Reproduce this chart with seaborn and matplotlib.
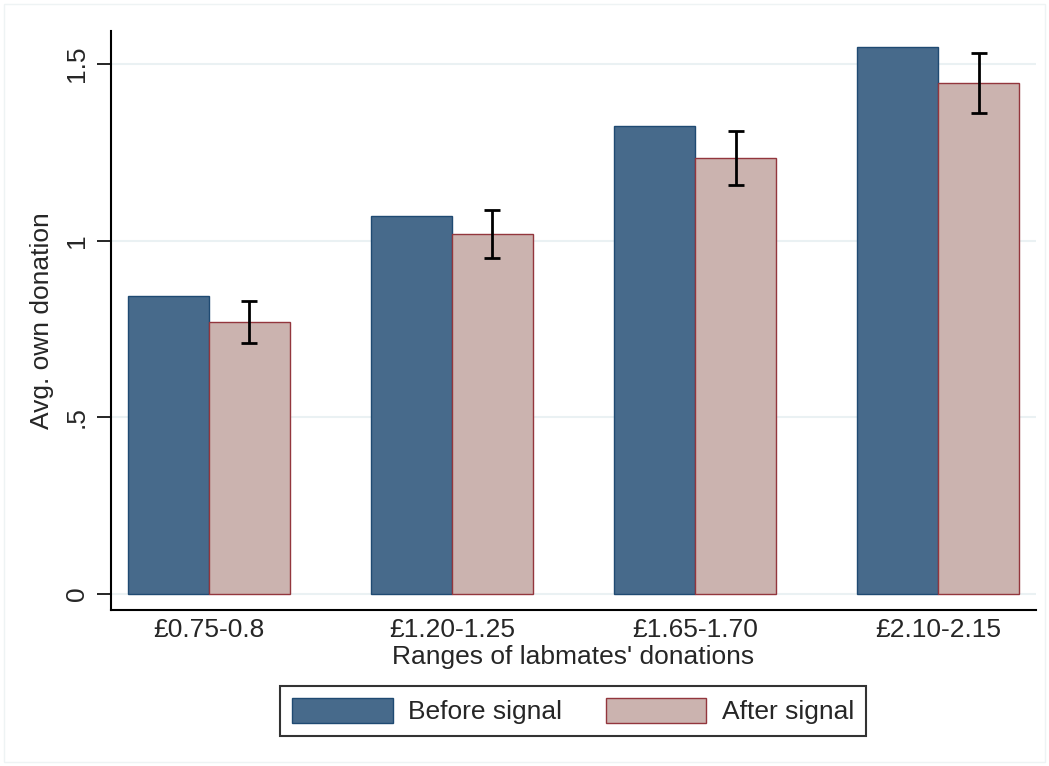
import numpy as np
import pandas as pd
import matplotlib
matplotlib.use("Agg")
import matplotlib.pyplot as plt
import seaborn as sns
from matplotlib.patches import Rectangle

# Data
ranges = ["£0.75-0.8", "£1.20-1.25", "£1.65-1.70", "£2.10-2.15"]
before_signal = [0.843, 1.070, 1.325, 1.547]
after_signal = [0.770, 1.019, 1.233, 1.446]
after_ci_low = [0.710, 0.951, 1.156, 1.361]
after_ci_high = [0.829, 1.087, 1.311, 1.531]
series_names = ["Before signal", "After signal"]
y_ticks = [0, 0.5, 1, 1.5]
y_tick_labels = ["0", ".5", "1", "1.5"]

sns.set_style("white")
plt.rcParams['font.family'] = ['Liberation Sans', 'DejaVu Sans']

df = pd.DataFrame({
    'range': ranges * 2,
    'value': before_signal + after_signal,
    'series': [series_names[0]] * 4 + [series_names[1]] * 4,
})

fill_colors = {'Before signal': '#476a8b', 'After signal': '#cbb3af'}
edge_colors = ['#1f4a72', '#93363d']

fig = plt.figure(figsize=(10.49, 7.66), dpi=100)
ax = fig.add_axes([0.1058, 0.2037, 0.8818, 0.7558])

sns.barplot(data=df, x='range', y='value', hue='series', order=ranges,
            hue_order=series_names, palette=fill_colors, width=0.667,
            errorbar=None, ax=ax, saturation=1, legend=True)

for cont, ec in zip(ax.containers, edge_colors):
    for patch in cont:
        patch.set_edgecolor(ec)
        patch.set_linewidth(1.0)

# error bars on the "after signal" bars
after_bars = ax.containers[1]
xs = [p.get_x() + p.get_width() / 2 for p in after_bars]
yerr = [np.array(after_signal) - np.array(after_ci_low),
        np.array(after_ci_high) - np.array(after_signal)]
ax.errorbar(xs, after_signal, yerr=yerr, fmt='none', ecolor='black',
            elinewidth=2, capsize=6, capthick=2, zorder=10)

ax.set_xlim(-0.403, 3.403)
ax.set_ylim(-0.045, 1.593)
ax.set_yticks(y_ticks)
ax.set_yticklabels(y_tick_labels, rotation=90, va='center', fontsize=19)
ax.tick_params(axis='y', length=10, width=1.2, pad=6, left=True, color='black')
ax.tick_params(axis='x', length=0, pad=6, labelsize=19)

ax.grid(axis='y', color='#eaf1f3', linewidth=1.5)
ax.set_axisbelow(True)

for side in ['top', 'right']:
    ax.spines[side].set_visible(False)
for side in ['left', 'bottom']:
    ax.spines[side].set_color('black')
    ax.spines[side].set_linewidth(1.5)

ax.set_xlabel("Ranges of labmates' donations", fontsize=19, labelpad=2)
ax.set_ylabel("Avg. own donation", fontsize=19, labelpad=8)

handles, labels = ax.get_legend_handles_labels()
ax.legend_.remove()
leg = fig.legend(handles, labels, loc='center', bbox_to_anchor=(0.5465, 0.0718),
                 ncol=2, fontsize=19, frameon=True, fancybox=False,
                 handlelength=3.8, handleheight=1.1, columnspacing=1.65,
                 handletextpad=0.6, borderpad=0.45, borderaxespad=0,
                 edgecolor='black')
leg.get_frame().set_linewidth(1.5)
for h, ec in zip(leg.legend_handles, edge_colors):
    h.set_edgecolor(ec)

# light outer border of the graph region
fig.patches.append(Rectangle((0.004, 0.005), 0.992, 0.99, transform=fig.transFigure,
                             fill=False, edgecolor='#eef3f4', linewidth=1.0))

fig.savefig('out.png', dpi=100)
